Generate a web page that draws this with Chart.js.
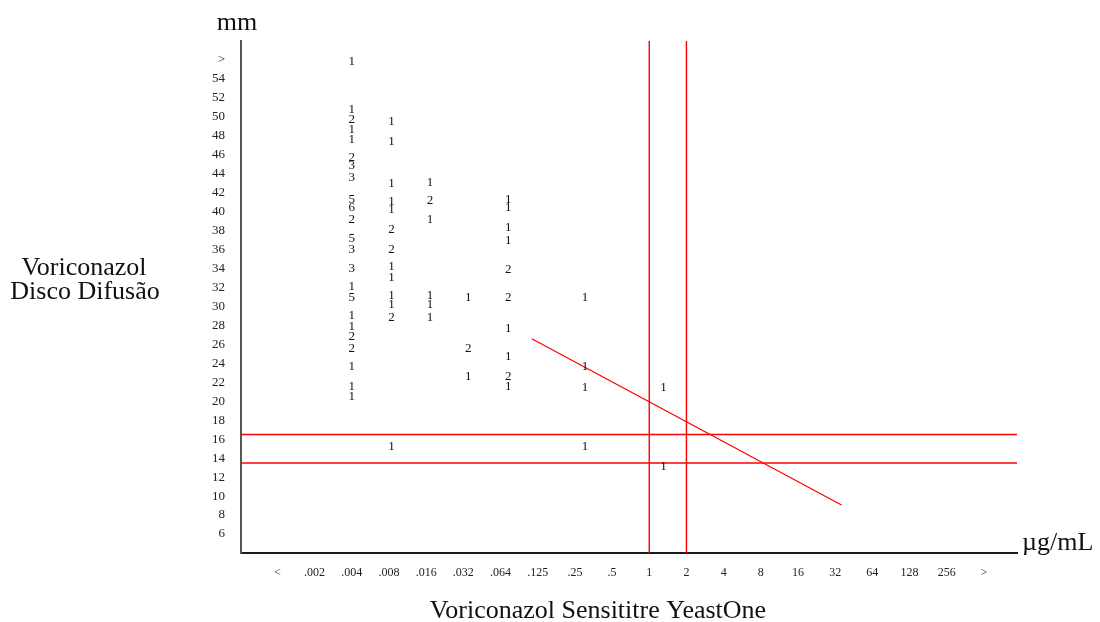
<!DOCTYPE html>
<html>
<head>
<meta charset="utf-8">
<script src="https://cdn.jsdelivr.net/npm/chart.js@4.4.1/dist/chart.umd.min.js"></script>
<style>
  html, body { margin: 0; padding: 0; background: #fff; }
  #wrap { width: 1100px; height: 622px; position: relative; }
</style>
</head>
<body>
<div id="wrap"><canvas id="c"></canvas></div>
<script>
// x axis: MIC categories (tick index 0..19)
const xTickLabels = ['<', '.002', '.004', '.008', '.016', '.032', '.064', '.125', '.25', '.5',
                     '1', '2', '4', '8', '16', '32', '64', '128', '256', '>'];
// y axis: disk diameter in mm, 56 stands for ">"
const yTickValues = [6, 8, 10, 12, 14, 16, 18, 20, 22, 24, 26, 28, 30, 32, 34, 36, 38, 40,
                     42, 44, 46, 48, 50, 52, 54, 56];
const yTickLabels = ['6', '8', '10', '12', '14', '16', '18', '20', '22', '24', '26', '28', '30',
                     '32', '34', '36', '38', '40', '42', '44', '46', '48', '50', '52', '54', '>'];

// columns of counts, position of each column on the x axis
const columnNames = ['.004', '.008', '.016', '.032', '.064', '.25', '1'];
const columnX = [2.0, 3.07, 4.10, 5.13, 6.21, 8.27, 10.38];

const mm004 = [55.8, 50.8, 49.7, 48.7, 47.6, 45.7, 44.9, 43.6, 41.3, 40.4, 39.2, 37.2, 36.0,
               34.0, 32.1, 30.9, 29.0, 27.9, 26.8, 25.6, 23.7, 21.6, 20.5];
const n004  = [1, 1, 2, 1, 1, 2, 3, 3, 5, 6, 2, 5, 3, 3, 1, 5, 1, 1, 2, 2, 1, 1, 1];
const mm008 = [49.5, 47.4, 43.0, 41.1, 40.2, 38.1, 36.0, 34.2, 33.1, 31.1, 30.2, 28.8, 15.2];
const n008  = [1, 1, 1, 1, 1, 2, 2, 1, 1, 1, 1, 2, 1];
const mm016 = [43.1, 41.2, 39.2, 31.1, 30.2, 28.8];
const n016  = [1, 2, 1, 1, 1, 1];
const mm032 = [30.9, 25.6, 22.6];
const n032  = [1, 2, 1];
const mm064 = [41.3, 40.4, 38.3, 37.0, 33.9, 30.9, 27.7, 24.7, 22.6, 21.6];
const n064  = [1, 1, 1, 1, 2, 2, 1, 1, 2, 1];
const mm025 = [30.9, 23.7, 21.4, 15.2];
const n025  = [1, 1, 1, 1];
const mm1   = [21.4, 13.1];
const n1    = [1, 1];

const columnsMm = [mm004, mm008, mm016, mm032, mm064, mm025, mm1];
const columnsN  = [n004, n008, n016, n032, n064, n025, n1];

// breakpoints and regression line
const micBreaks = [10, 11];          // tick index of 1 and 2 ug/mL
const mmBreaks = [16.5, 13.5];
const regLineX = [6.84, 15.17];
const regLineY = [26.6, 9.06];

const X_MIN = -0.98, X_MAX = 19.89, Y_MIN = 4, Y_MAX = 58;

const countPoints = [];
columnsMm.forEach((col, i) => {
    col.forEach((mm, j) => countPoints.push({ x: columnX[i], y: mm, n: columnsN[i][j] }));
});

const red = '#ff0000';
const lineDs = (data, w) => ({
    data, showLine: true, borderColor: red, borderWidth: w, pointRadius: 0, fill: false
});

const datasets = [
    { data: countPoints, pointRadius: 0, countLabels: true },
    ...micBreaks.map(v => lineDs([{ x: v, y: Y_MIN }, { x: v, y: Y_MAX }], 1.4)),
    ...mmBreaks.map(v => lineDs([{ x: X_MIN, y: v }, { x: X_MAX, y: v }], 1.4)),
    lineDs([{ x: regLineX[0], y: regLineY[0] }, { x: regLineX[1], y: regLineY[1] }], 1.3)
];

const labelPlugin = {
    id: 'labels',
    afterDatasetsDraw(chart) {
        const ctx = chart.ctx;
        ctx.save();
        ctx.font = '13px "Liberation Serif", serif';
        ctx.fillStyle = '#111';
        ctx.textAlign = 'center';
        ctx.textBaseline = 'middle';
        chart.data.datasets.forEach((ds, i) => {
            if (!ds.countLabels) return;
            chart.getDatasetMeta(i).data.forEach((el, j) => {
                ctx.fillText(String(ds.data[j].n), el.x, el.y);
            });
        });
        ctx.restore();
    },
    afterDraw(chart) {
        const ctx = chart.ctx;
        ctx.save();
        ctx.fillStyle = '#111';
        ctx.font = '26px "Liberation Serif", serif';
        ctx.textBaseline = 'alphabetic';
        ctx.textAlign = 'center';
        ctx.fillText('mm', 237, 30);
        ctx.fillText('Voriconazol', 84, 275);
        ctx.fillText('Disco Difusão', 85, 299);
        ctx.fillText('Voriconazol Sensititre YeastOne', 598, 618);
        ctx.textAlign = 'left';
        ctx.fillText('\u00b5g/mL', 1022, 550);
        ctx.restore();
    }
};

new Chart(document.getElementById('c'), {
    type: 'scatter',
    data: { datasets },
    options: {
        responsive: true,
        maintainAspectRatio: false,
        animation: false,
        events: [],
        layout: { padding: { top: 41, right: 83, bottom: 0, left: 0 } },
        plugins: { legend: { display: false }, tooltip: { enabled: false } },
        scales: {
            x: {
                type: 'linear', min: X_MIN, max: X_MAX,
                afterBuildTicks: s => { s.ticks = xTickLabels.map((_, i) => ({ value: i })); },
                afterFit: s => { s.height = 69; },
                ticks: {
                    autoSkip: false, maxRotation: 0, padding: 13, color: '#222',
                    font: { family: '"Liberation Serif", serif', size: 12 },
                    callback: (v, i) => xTickLabels[i]
                },
                grid: { display: false, drawTicks: false },
                border: { display: true, color: '#1a1a1a', width: 2 }
            },
            y: {
                type: 'linear', min: Y_MIN, max: Y_MAX,
                afterBuildTicks: s => { s.ticks = yTickValues.map(v => ({ value: v })); },
                afterFit: s => { s.width = 241; },
                ticks: {
                    padding: 16, color: '#222',
                    font: { family: '"Liberation Serif", serif', size: 13 },
                    callback: (v, i) => yTickLabels[i]
                },
                grid: { display: false, drawTicks: false },
                border: { display: true, color: '#555', width: 2 }
            }
        }
    },
    plugins: [labelPlugin]
});
</script>
</body>
</html>
